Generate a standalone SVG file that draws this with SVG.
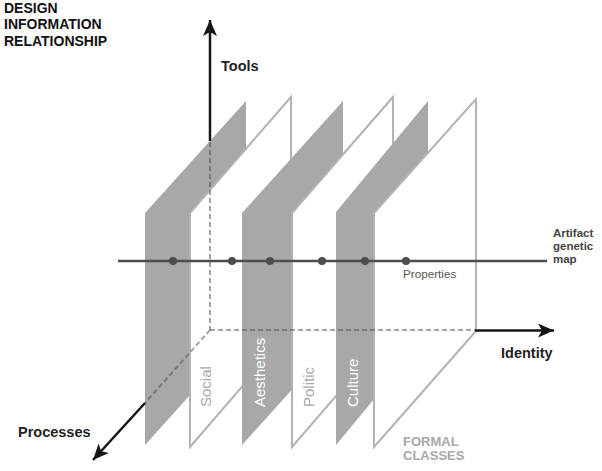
<svg xmlns="http://www.w3.org/2000/svg" width="602" height="471" viewBox="0 0 602 471">
<defs>
<style>
.gp{fill:#a8a8a8;stroke:none}
.wp{fill:#ffffff;stroke:#b3b3b3;stroke-width:2;stroke-linejoin:miter}
.dash{fill:none;stroke:#4a4a4a;stroke-opacity:0.5;stroke-width:2;stroke-dasharray:5 3}
.axis{fill:none;stroke:#151515;stroke-width:2.5;marker-end:url(#ah)}
.map{fill:none;stroke:#4d4d4d;stroke-width:2.5}
.dot{fill:#4d4d4d}
text{font-family:"Liberation Sans",Arial,sans-serif}
.title{font-size:14px;font-weight:bold;fill:#111}
.ax{font-size:14.5px;font-weight:bold;fill:#222}
.agm{font-size:11.5px;font-weight:bold;fill:#444}
.prop{font-size:11.7px;fill:#555}
.rl{font-size:15px}
.fc{font-size:13px;font-weight:bold;fill:#a8a8a8}
</style>
<marker id="ah" viewBox="0 0 16 14" refX="16" refY="7" markerWidth="16" markerHeight="14" markerUnits="userSpaceOnUse" orient="auto">
<path d="M0,0 L16,7 L0,14 L4,7 z" fill="#151515"/>
</marker>
</defs>

<g id="plane-1"><polygon class="gp" points="145,213 246,101 246,333 145,445"/></g>
<g id="plane-social"><polygon class="wp" points="190,213 291,97 291,330 190,447"/></g>
<g id="plane-aesthetics"><polygon class="gp" points="242,213 343,101 343,333 242,445"/></g>
<g id="plane-politic"><polygon class="wp" points="292,213 393,97 393,330 292,447"/></g>
<g id="plane-culture"><polygon class="gp" points="336,212 428,101 428,334 336,445"/></g>
<g id="plane-formal"><polygon class="wp" points="374,213 476,99 476,331 374,447"/></g>

<g id="connectors">
<line class="dash" x1="210" y1="142" x2="210" y2="330"/>
<line class="dash" x1="210" y1="330" x2="475" y2="330"/>
<line class="dash" x1="210" y1="330" x2="145" y2="403"/>
<line class="axis" x1="210" y1="141" x2="210" y2="20"/>
<line class="axis" x1="475" y1="330.5" x2="554" y2="330.5"/>
<line class="axis" x1="145" y1="403" x2="93" y2="460"/>
</g>

<g id="genetic-map">
<line class="map" x1="118" y1="261" x2="547" y2="261"/>
<circle class="dot" cx="173" cy="261" r="4"/>
<circle class="dot" cx="232" cy="261" r="4"/>
<circle class="dot" cx="270" cy="261" r="4"/>
<circle class="dot" cx="322" cy="261" r="4"/>
<circle class="dot" cx="365" cy="261" r="4"/>
<circle class="dot" cx="406" cy="261" r="4"/>
</g>

<g id="labels">
<text class="title" x="4" y="12.7">DESIGN</text>
<text class="title" x="4" y="29.3">INFORMATION</text>
<text class="title" x="4" y="46">RELATIONSHIP</text>
<text class="ax" x="221" y="71">Tools</text>
<text class="ax" x="501" y="358">Identity</text>
<text class="ax" x="18" y="437">Processes</text>
<text class="agm" x="553" y="236.7">Artifact</text>
<text class="agm" x="553" y="249.7">genetic</text>
<text class="agm" x="553" y="262.7">map</text>
<text class="prop" x="403" y="278">Properties</text>
<text class="rl" transform="translate(210.5,407) rotate(-90)" fill="#a8a8a8">Social</text>
<text class="rl" transform="translate(265,407) rotate(-90)" fill="#ffffff">Aesthetics</text>
<text class="rl" transform="translate(313.5,407) rotate(-90)" fill="#a8a8a8">Politic</text>
<text class="rl" transform="translate(357.5,407) rotate(-90)" fill="#ffffff">Culture</text>
<text class="fc" x="403" y="445.5">FORMAL</text>
<text class="fc" x="403" y="459.5">CLASSES</text>
</g>
</svg>
